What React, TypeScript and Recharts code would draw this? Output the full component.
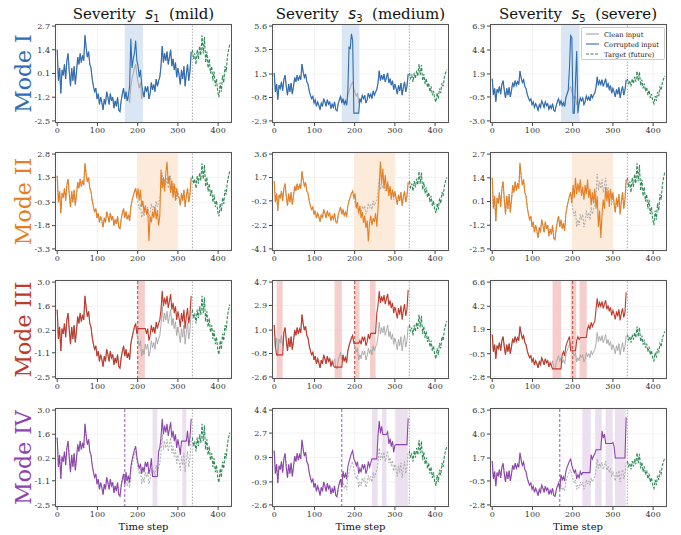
import { CartesianGrid, Line, LineChart, ReferenceArea, ReferenceLine, XAxis, YAxis } from "recharts";

// clean input, t = 0, 3, ..., 333
const cleanInput = [
  1.4, -0.3, 0.4, -1.0, 0.3, 0.0, 0.6, -0.2, 0.8, 1.2, 0.2, -0.6, 0.4, -0.3, 0.5, -0.5,
  0.2, 1.0, 0.6, 1.2, 0.7, 1.1, 0.8, 2.2, 1.5, 1.0, 1.3, 0.6, 0.4, -0.2, -0.6, -0.9,
  -0.7, -1.3, -1.0, -1.6, -1.2, -1.5, -1.9, -1.3, -1.6, -0.9, -1.2, -1.6, -1.0, -1.4, -1.2, -1.8,
  -1.4, -1.7, -1.2, -1.9, -2.0, -1.4, -1.0, -0.7, -1.3, -0.9, -1.4, -1.1, -1.5, -0.6, -0.2, 0.1,
  0.4, 0.6, 0.0, -0.4, -0.7, -0.4, -1.3, -0.9, -1.2, -0.6, -0.9, -0.6, -1.3, -1.0, -0.4, -0.8,
  -0.5, -0.9, -0.2, -0.6, -0.3, -0.1, 0.5, 1.6, 0.7, 1.2, 0.8, 1.3, 0.6, 1.0, 1.4, 0.5,
  0.9, 0.3, 0.7, -0.1, 0.4, 0.0, -0.5, 0.3, -0.2, 0.5, -0.6, 0.1, 0.6, -0.3, 0.2, 1.3,
];
// target (future), t = 336, 339, ..., 429
const targetFuture = [
  1.4, 0.9, 1.2, 0.6, 1.4, 0.9, 1.6, 1.1, 2.2, 1.2, 2.1, 0.7, 1.3, 0.4, 0.9, 0.1,
  0.5, -0.3, 0.2, -0.6, -0.2, -0.9, -1.2, -0.4, -0.9, 0.0, -0.4, 0.5, 0.2, 1.0, 1.4, 1.7,
];

const xTicks = [0, 100, 200, 300, 400];
const severityIdx = ["1", "3", "5"];
const severityNames = ["mild", "medium", "severe"];
const modeNames = ["Mode I", "Mode II", "Mode III", "Mode IV"];
const modeColors = ["#2e6db4", "#e67e22", "#c0392b", "#8e44ad"];
const shadeColors = ["#dae6f3", "#fcebdb", "#f5cdcb", "#ebdff0"];

const yTicks = [
  [[-2.5, -1.2, 0.1, 1.4, 2.7], [-2.9, -0.8, 1.3, 3.5, 5.6], [-3.0, -0.5, 1.9, 4.4, 6.9]],
  [[-3.3, -1.8, -0.3, 1.3, 2.8], [-4.1, -2.2, -0.2, 1.7, 3.6], [-2.5, -1.2, 0.1, 1.4, 2.7]],
  [[-2.5, -1.1, 0.2, 1.6, 3.0], [-2.6, -0.8, 1.0, 2.9, 4.7], [-2.8, -0.5, 1.9, 4.2, 6.6]],
  [[-2.5, -1.1, 0.2, 1.6, 3.0], [-2.6, -0.9, 0.9, 2.7, 4.4], [-2.8, -0.5, 1.7, 4.0, 6.3]],
];

// Mode I: spikes [t, value]
const spikeS1 = [[180, -0.6], [183, 2.0], [186, 0.4], [189, 0.9], [192, 1.2], [195, 1.9], [198, 0.8], [201, 0.5], [204, -0.1], [207, 0.3], [210, -0.5]];
const spikeS3 = [[183, -0.3], [186, 3.7], [189, 3.6], [192, 4.9], [195, 4.3], [198, -2.2], [201, -2.2], [204, -2.2], [207, -2.2], [210, -2.2]];
const spikeS5 = [[189, 0.2], [192, 2.5], [195, 5.9], [198, 5.7], [201, -2.2], [204, -2.2], [207, 1.0], [210, 4.3], [213, -2.2]];
const spikeWindows = [[168, 213], [168, 212], [171, 217]];

// Mode II: noisy values, t = 201, 204, ..., 300
const noiseS1 = [0.6, -0.2, 0.5, -0.6, -0.2, -1.0, -0.5, -1.1, -0.7, -2.8, -1.2, -1.6, -0.9, -1.3, -0.6, -1.4, -0.8, -1.8, -1.2, 1.8, 0.6, 1.3, 0.4, 1.6, 2.3, 0.9, 1.4, 0.3, 1.1, 0.0, 0.9, -0.2, 0.6, 0.1];
const noiseS3 = [0.4, -0.8, -0.3, -1.2, -0.6, -1.6, -1.1, -2.0, -1.4, -2.4, -1.8, -3.5, -2.0, -1.4, -2.2, -1.6, -1.9, -1.2, -2.3, -0.8, 0.9, 3.0, 1.2, 2.4, 0.8, 1.9, 0.6, 1.3, 0.2, 1.0, -0.1, 0.7, 0.1, 0.6];
const noiseS5 = [1.0, 0.3, 1.4, 0.5, 1.1, 0.6, 1.3, 0.4, 0.9, 0.2, 1.0, 0.5, 1.3, 0.3, 0.8, -0.1, 0.6, 0.0, 0.8, -0.3, 0.4, -1.3, -0.4, -1.9, -0.6, 0.2, -0.3, 0.9, 0.1, 0.7, -0.2, 0.8, 0.2, 0.6];
const noiseWindow = [198, 300];

// Mode III: stuck [start, end, level] and level shifts [from, offset]
const stuckS1 = [[200, 218, 0.3]];
const stuckS3 = [[6, 21, -0.9], [150, 168, -1.85], [200, 212, 0.0], [238, 252, 0.75]];
const stuckS5 = [[150, 171, -2.0], [195, 209, -0.2], [217, 235, 1.1]];
const shiftS1 = [[200, 0.9]];
const shiftS3 = [[200, 1.1], [252, 2.4], [332, 2.8]];
const shiftS5 = [[171, 0.8], [209, 2.1], [235, 2.8], [258, 3.4], [332, 4.3]];

// Mode IV: holds [start, end, level] and drift [from, offset]
const holdS1 = [[237, 249, -0.85], [311, 321, 1.2]];
const holdS3 = [[243, 257, 0.8], [268, 279, 2.6], [301, 332, 1.85]];
const holdS5 = [[224, 245, 0.3], [256, 272, 2.5], [282, 299, 3.1], [305, 332, 1.7]];
const driftS1 = [[170, 0.3], [210, 0.6], [250, 0.9], [321, 1.2]];
const driftS3 = [[170, 0.8], [200, 1.0], [257, 2.0], [279, 1.4], [332, 2.5]];
const driftS5 = [[170, 1.0], [245, 2.2], [272, 3.0], [299, 2.8], [332, 4.3]];

const FONT = "DejaVu Serif";
const colLeft = [55, 272, 489.5];
const rowTop = [24, 152, 280, 408];
const PW = 177;
const PH = 99;
const YW = 30;
const XH = 14;
const MT = 6;

function corrupted(row: number, col: number, t: number, v: number): number {
  if (row === 0) {
    const sp = [spikeS1, spikeS3, spikeS5][col].find((p) => p[0] === t);
    return sp ? sp[1] : v;
  }
  if (row === 1) {
    const noise = [noiseS1, noiseS3, noiseS5][col];
    const k = (t - 201) / 3;
    return k >= 0 && k < noise.length ? noise[k] : v;
  }
  const stuck = row === 2 ? [stuckS1, stuckS3, stuckS5][col] : [holdS1, holdS3, holdS5][col];
  const shift = row === 2 ? [shiftS1, shiftS3, shiftS5][col] : [driftS1, driftS3, driftS5][col];
  const s = stuck.find((w) => t >= w[0] && t <= w[1]);
  if (s) return s[2];
  let off = 0;
  shift.forEach((d) => {
    if (t >= d[0]) off = d[1];
  });
  return v + off;
}

function shades(row: number, col: number): number[][] {
  if (row === 0) return [spikeWindows[col]];
  if (row === 1) return [noiseWindow];
  if (row === 2) return [stuckS1, stuckS3, stuckS5][col];
  return [holdS1, holdS3, holdS5][col];
}

function Panel({ row, col }: { row: number; col: number }) {
  const data: { t: number; clean?: number; corr?: number; target?: number }[] = cleanInput.map((v, i) => ({
    t: i * 3,
    clean: v,
    corr: corrupted(row, col, i * 3, v),
  }));
  targetFuture.forEach((v, i) => data.push({ t: 336 + i * 3, target: v }));
  const ticks = yTicks[row][col];
  const lo = ticks[0];
  const hi = ticks[ticks.length - 1];
  const pad = (hi - lo) * 0.022;
  const color = modeColors[row];
  const dashedClean = row === 1 || row === 3;
  const tickStyle = { fontSize: 8, fill: "#333", fontFamily: FONT };
  return (
    <div style={{ position: "absolute", left: colLeft[col] - YW, top: rowTop[row] - MT }}>
      <LineChart width={PW + YW} height={PH + XH + MT} data={data} margin={{ top: MT, right: 0, bottom: 0, left: 0 }}>
        {shades(row, col).map((w, i) => (
          <ReferenceArea key={i} x1={w[0]} x2={w[1]} fill={shadeColors[row]} fillOpacity={1} stroke="none" />
        ))}
        <CartesianGrid stroke="#ebebeb" strokeWidth={0.6} />
        <XAxis
          dataKey="t"
          type="number"
          domain={[-5.5, 434.5]}
          ticks={xTicks}
          height={XH}
          tickSize={3}
          tickMargin={1}
          axisLine={false}
          tickLine={{ stroke: "#444" }}
          tick={tickStyle}
          interval={0}
        />
        <YAxis
          type="number"
          domain={[lo - pad, hi + pad]}
          ticks={ticks}
          tickFormatter={(v: number) => v.toFixed(1)}
          width={YW}
          tickSize={3}
          tickMargin={2}
          axisLine={false}
          tickLine={{ stroke: "#444" }}
          tick={tickStyle}
          allowDataOverflow
          interval={0}
        />
        <ReferenceLine x={336} stroke="#999" strokeDasharray="1.5 1.5" strokeWidth={0.8} />
        {row === 2 && <ReferenceLine x={200} stroke={color} strokeDasharray="3 2" strokeWidth={0.9} />}
        {row === 3 && <ReferenceLine x={168} stroke={color} strokeDasharray="3 2" strokeWidth={0.9} />}
        <Line
          dataKey="clean"
          stroke="#a3a3a3"
          strokeWidth={0.9}
          strokeDasharray={dashedClean ? "2 1.5" : undefined}
          dot={false}
          isAnimationActive={false}
        />
        <Line dataKey="corr" stroke={color} strokeWidth={1.1} dot={false} isAnimationActive={false} />
        <Line dataKey="target" stroke="#2e8b57" strokeWidth={1.1} strokeDasharray="3 1.5" dot={false} isAnimationActive={false} />
      </LineChart>
      <div
        style={{
          position: "absolute",
          left: YW,
          top: MT,
          width: PW,
          height: PH,
          border: "1px solid #555",
          boxSizing: "border-box",
          pointerEvents: "none",
        }}
      />
    </div>
  );
}

function LegendBox() {
  const items = [
    { label: "Clean input", color: "#a3a3a3", dash: undefined },
    { label: "Corrupted input", color: modeColors[0], dash: undefined },
    { label: "Target (future)", color: "#2e8b57", dash: "3 1.5" },
  ];
  return (
    <div
      style={{
        position: "absolute",
        left: 581,
        top: 27,
        width: 84,
        height: 33,
        border: "0.8px solid #ccc",
        borderRadius: 2,
        background: "rgba(255,255,255,0.85)",
        boxSizing: "border-box",
      }}
    >
      <svg width={84} height={33}>
        {items.map((it, i) => (
          <g key={it.label}>
            <line x1={4} x2={17} y1={6 + i * 10} y2={6 + i * 10} stroke={it.color} strokeWidth={1.1} strokeDasharray={it.dash} />
            <text x={22} y={8.5 + i * 10} fontSize={6.7} fontFamily={FONT} fill="#222">
              {it.label}
            </text>
          </g>
        ))}
      </svg>
    </div>
  );
}

export default function App() {
  return (
    <div style={{ position: "absolute", left: 0, top: 0, width: 681, height: 535, background: "#fff" }}>
      {rowTop.map((_, r) => colLeft.map((_, c) => <Panel key={`${r}-${c}`} row={r} col={c} />))}
      <LegendBox />
      <svg width={681} height={535} style={{ position: "absolute", left: 0, top: 0, pointerEvents: "none" }}>
        {colLeft.map((x, c) => (
          <text key={`t${c}`} x={x + PW / 2} y={19} textAnchor="middle" fontFamily={FONT} fontSize={15} fill="#111">
            Severity{"\u00a0\u00a0"}
            <tspan fontFamily="DejaVu Sans" fontStyle="italic">s</tspan>
            <tspan fontFamily="DejaVu Sans" fontSize={10} dy={3}>{severityIdx[c]}</tspan>
            <tspan dy={-3}>{"\u00a0\u00a0"}({severityNames[c]})</tspan>
          </text>
        ))}
        {rowTop.map((y, r) => (
          <text
            key={`m${r}`}
            x={31}
            y={y + PH / 2}
            transform={`rotate(-90, 31, ${y + PH / 2})`}
            textAnchor="middle"
            fontFamily={FONT}
            fontSize={22}
            fill={modeColors[r]}
          >
            {modeNames[r]}
          </text>
        ))}
        {colLeft.map((x, c) => (
          <text key={`x${c}`} x={x + PW / 2} y={530} textAnchor="middle" fontFamily={FONT} fontSize={10} fill="#111">
            Time step
          </text>
        ))}
      </svg>
    </div>
  );
}
